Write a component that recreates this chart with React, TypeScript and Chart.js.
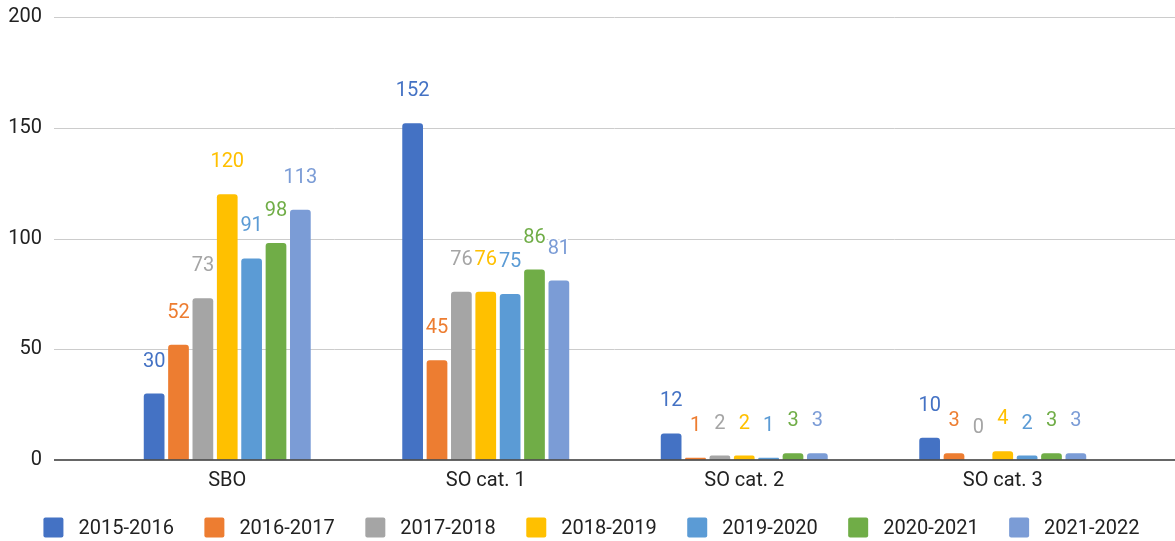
import React, { useEffect, useRef } from "react";
import { Chart, registerables } from "chart.js";

Chart.register(...registerables);

const categories = ["SBO", "SO cat. 1", "SO cat. 2", "SO cat. 3"];
const seriesLabels = ["2015-2016", "2016-2017", "2017-2018", "2018-2019", "2019-2020", "2020-2021", "2021-2022"];
const s2015 = [30, 152, 12, 10];
const s2016 = [52, 45, 1, 3];
const s2017 = [73, 76, 2, 0];
const s2018 = [120, 76, 2, 4];
const s2019 = [91, 75, 1, 2];
const s2020 = [98, 86, 3, 3];
const s2021 = [113, 81, 3, 3];
const seriesValues = [s2015, s2016, s2017, s2018, s2019, s2020, s2021];
const colors = ["#4472c4", "#ed7d31", "#a5a5a5", "#ffc000", "#5b9bd5", "#70ad47", "#7b9cd6"];
const yTicks = [0, 50, 100, 150, 200];

const FONT = "Roboto, 'Noto Sans', Arial, sans-serif";

const gridPlugin = {
  id: "customGrid",
  beforeDatasetsDraw(chart: any) {
    const { ctx } = chart;
    const y = chart.scales.y;
    ctx.save();
    ctx.strokeStyle = "#cccccc";
    ctx.lineWidth = 1;
    yTicks.forEach((v) => {
      if (v === 0) return;
      const py = Math.round(y.getPixelForValue(v)) + 0.5;
      ctx.beginPath();
      ctx.moveTo(54, py);
      ctx.lineTo(chart.width, py);
      ctx.stroke();
    });
    ctx.restore();
  },
  afterDatasetsDraw(chart: any) {
    const { ctx } = chart;
    const y = chart.scales.y;
    ctx.save();
    const py0 = y.getPixelForValue(0);
    ctx.strokeStyle = "#333333";
    ctx.lineWidth = 1.5;
    ctx.beginPath();
    ctx.moveTo(54, py0);
    ctx.lineTo(chart.width, py0);
    ctx.stroke();

    // data labels
    ctx.font = `20px ${FONT}`;
    ctx.textAlign = "center";
    ctx.textBaseline = "middle";
    chart.data.datasets.forEach((ds: any, di: number) => {
      const meta = chart.getDatasetMeta(di);
      meta.data.forEach((bar: any, i: number) => {
        const val = ds.data[i];
        const ty = bar.y - 32;
        ctx.lineWidth = 4;
        ctx.strokeStyle = "#ffffff";
        ctx.lineJoin = "round";
        ctx.strokeText(String(val), bar.x, ty);
        ctx.fillStyle = ds.backgroundColor;
        ctx.fillText(String(val), bar.x, ty);
      });
    });
    ctx.restore();
  },
  afterDraw(chart: any) {
    const { ctx } = chart;
    ctx.save();
    ctx.font = `20px ${FONT}`;
    ctx.textBaseline = "middle";
    ctx.textAlign = "left";
    const box = 20;
    const gapText = 15;
    const gapItem = 30.5;
    const items = chart.data.datasets.map((ds: any) => ({
      label: ds.label,
      color: ds.backgroundColor,
      w: ctx.measureText(ds.label).width,
    }));
    let total = 0;
    items.forEach((it: any, i: number) => {
      total += box + gapText + it.w + (i < items.length - 1 ? gapItem : 0);
    });
    let x = 591.5 - total / 2;
    const cy = 527.5;
    items.forEach((it: any) => {
      ctx.fillStyle = it.color;
      ctx.beginPath();
      (ctx as any).roundRect(x, cy - box / 2, box, box, 2);
      ctx.fill();
      ctx.fillStyle = "#222222";
      ctx.fillText(it.label, x + box + gapText, cy + 1);
      x += box + gapText + it.w + gapItem;
    });
    ctx.restore();
  },
};

export default function App() {
  const ref = useRef<HTMLCanvasElement | null>(null);
  useEffect(() => {
    document.body.style.margin = "0";
    if (!ref.current) return;
    const chart = new Chart(ref.current, {
      type: "bar",
      data: {
        labels: categories,
        datasets: seriesLabels.map((label, i) => ({
          label,
          data: seriesValues[i],
          backgroundColor: colors[i],
          borderRadius: 3,
          borderSkipped: "start",
          categoryPercentage: 0.66,
          barPercentage: 0.85,
        })),
      },
      options: {
        animation: false,
        responsive: false,
        maintainAspectRatio: false,
        layout: { padding: { top: 17, right: 43, bottom: 41, left: 0 } },
        plugins: {
          legend: { display: false },
          tooltip: { enabled: false },
        },
        scales: {
          x: {
            grid: { display: false, drawTicks: false },
            border: { display: false },
            ticks: { color: "#222222", font: { family: FONT, size: 20 }, padding: 9, maxRotation: 0 },
            afterFit: (s: any) => {
              s.height = 40;
            },
          },
          y: {
            min: 0,
            max: 200,
            afterBuildTicks: (s: any) => {
              s.ticks = yTicks.map((v) => ({ value: v }));
            },
            grid: { display: true, drawTicks: true, tickLength: 56, color: "rgba(0,0,0,0)", drawOnChartArea: false },
            border: { display: false },
            ticks: { color: "#222222", font: { family: FONT, size: 20 }, padding: 0 },
            afterFit: (s: any) => {
              s.width = 98;
            },
          },
        },
      },
      plugins: [gridPlugin],
    });
    return () => chart.destroy();
  }, []);
  return <canvas ref={ref} width={1175} height={541} style={{ display: "block" }} />;
}
